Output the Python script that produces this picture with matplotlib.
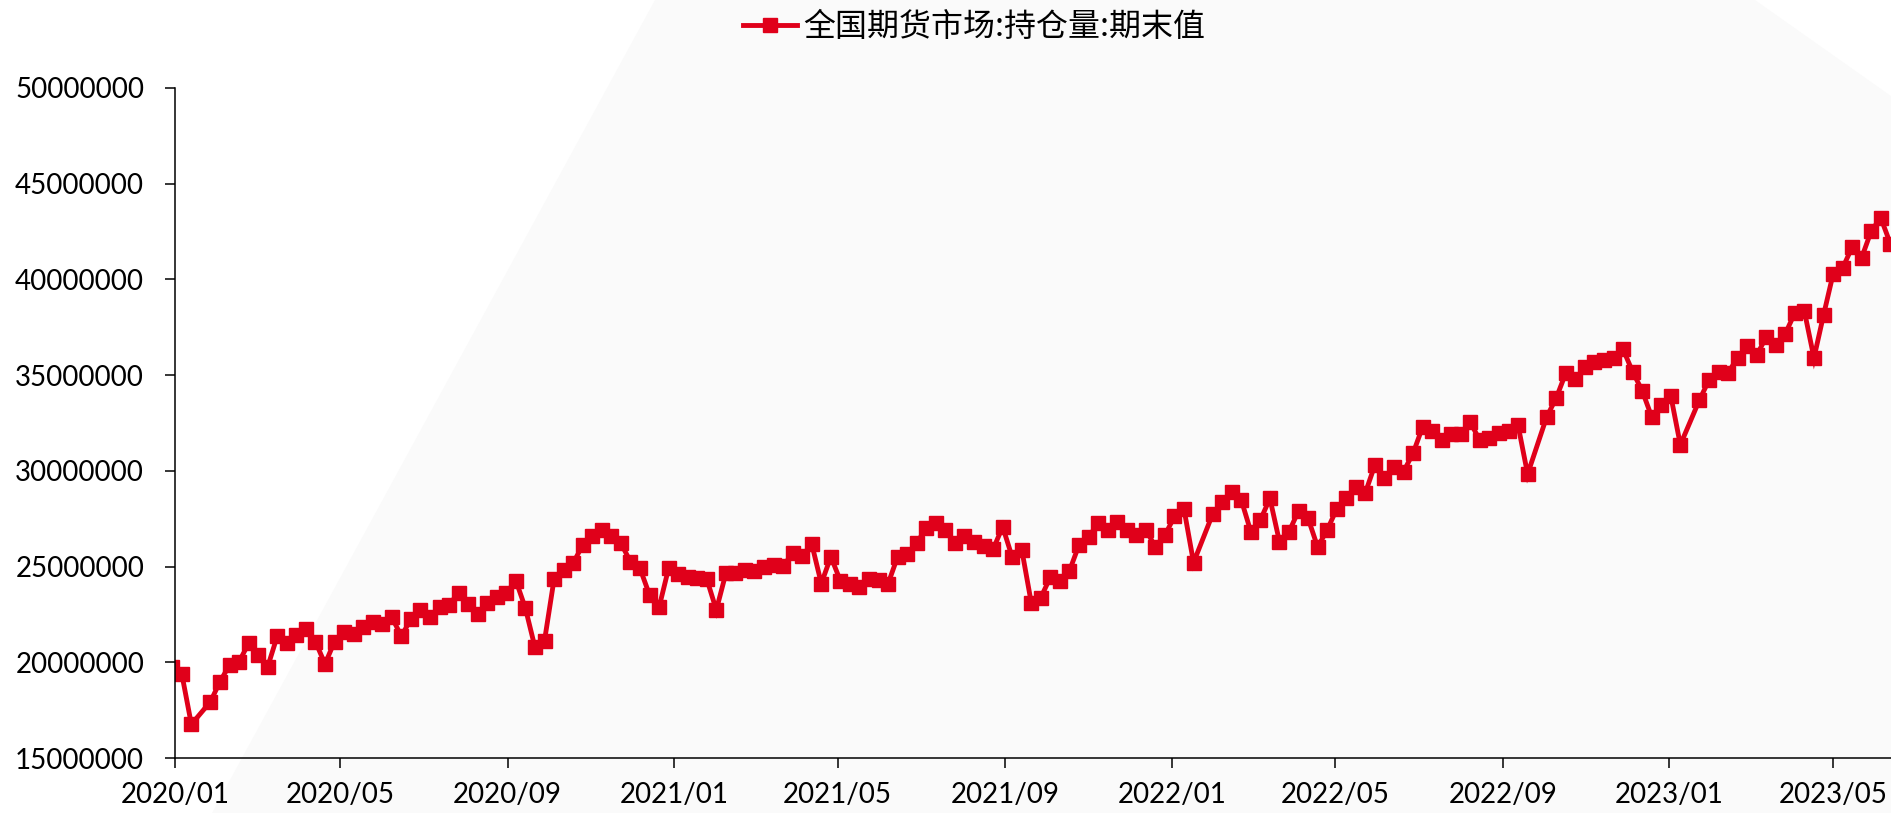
import matplotlib
matplotlib.use("Agg")
import matplotlib.pyplot as plt
import matplotlib.dates as mdates
from matplotlib.patches import Polygon
from matplotlib.lines import Line2D
from matplotlib.ticker import FixedLocator, FuncFormatter
import pandas as pd
import numpy as np

# Weekly observations (week start dates); weeks with market holidays have no value
week_start = "2019-12-30"
week_end = "2023-06-12"
closed_weeks = ["2020-01-20", "2022-01-24", "2022-09-26", "2023-01-16"]

# 全国期货市场:持仓量:期末值 (contracts)
open_interest = [
    19770000, 19390000, 16760000, 17940000, 18990000, 19860000, 20030000, 20990000,
    20380000, 19770000, 21370000, 21020000, 21430000, 21720000, 21080000, 19910000,
    21080000, 21600000, 21480000, 21860000, 22120000, 22000000, 22350000, 21370000,
    22250000, 22730000, 22350000, 22900000, 22990000, 23640000, 23020000, 22500000,
    23120000, 23410000, 23620000, 24270000, 22820000, 20780000, 21130000, 24340000,
    24800000, 25180000, 26130000, 26610000, 26930000, 26620000, 26220000, 25260000,
    24910000, 23520000, 22870000, 24910000, 24610000, 24470000, 24390000, 24350000,
    22730000, 24650000, 24680000, 24840000, 24780000, 24980000, 25080000, 25020000,
    25700000, 25550000, 26180000, 24110000, 25520000, 24250000, 24080000, 23920000,
    24360000, 24320000, 24110000, 25520000, 25660000, 26250000, 27000000, 27260000,
    26930000, 26250000, 26600000, 26280000, 26080000, 25910000, 27080000, 25490000,
    25890000, 23100000, 23380000, 24450000, 24250000, 24780000, 26130000, 26520000,
    27280000, 26930000, 27350000, 26930000, 26650000, 26910000, 26040000, 26640000,
    27620000, 28000000, 25210000, 27740000, 28380000, 28880000, 28480000, 26820000,
    27430000, 28560000, 26300000, 26820000, 27910000, 27520000, 26020000, 26910000,
    28010000, 28560000, 29140000, 28860000, 30310000, 29610000, 30220000, 29960000,
    30920000, 32300000, 32100000, 31590000, 31940000, 31940000, 32530000, 31590000,
    31700000, 31990000, 32100000, 32380000, 29830000, 32820000, 33810000, 35110000,
    34810000, 35400000, 35690000, 35800000, 35910000, 36350000, 35180000, 34190000,
    32820000, 33420000, 33920000, 31360000, 33700000, 34740000, 35180000, 35120000,
    35910000, 36540000, 36030000, 37000000, 36570000, 37170000, 38250000, 38330000,
    35900000, 38130000, 40270000, 40590000, 41690000, 41140000, 42530000, 43220000,
    41870000,
]

series_label = "全国期货市场:持仓量:期末值"
y_ticks = [15000000, 20000000, 25000000, 30000000, 35000000, 40000000, 45000000, 50000000]
x_ticks = ["2020-01-01", "2020-05-01", "2020-09-01", "2021-01-01", "2021-05-01",
           "2021-09-01", "2022-01-01", "2022-05-01", "2022-09-01", "2023-01-01",
           "2023-05-01"]

weeks = pd.date_range(week_start, week_end, freq="7D")
dates = weeks[~weeks.isin(pd.to_datetime(closed_weeks))]
dates = dates[:len(open_interest)]

RED = "#e0001a"
W, H = 1891, 813

fig = plt.figure(figsize=(W / 100, H / 100), dpi=100)
fig.patch.set_facecolor("white")

# pale backdrop band
band_px = [(655, 0), (1755, 0), (1891, 96), (1891, 813), (212, 813)]
band = Polygon([(x / W, 1 - y / H) for x, y in band_px], closed=True,
               transform=fig.transFigure, facecolor="#fafafa", edgecolor="none",
               zorder=-10)
fig.add_artist(band)

ax = fig.add_axes([175 / W, 1 - 758 / H, (W - 175) / W, (758 - 88) / H])
ax.set_facecolor("none")

ax.plot(dates, open_interest, color=RED, lw=3.5, marker="s", ms=9.6,
        mfc=RED, mec=RED, solid_joinstyle="miter")

ax.set_ylim(15000000, 50000000)
ax.set_xlim(pd.Timestamp("2020-01-01"), pd.Timestamp("2023-06-12 12:00"))

ax.yaxis.set_major_locator(FixedLocator(y_ticks))
ax.yaxis.set_major_formatter(FuncFormatter(lambda v, p: f"{v:.0f}"))
ax.xaxis.set_major_locator(FixedLocator(mdates.date2num(pd.to_datetime(x_ticks))))
ax.xaxis.set_major_formatter(mdates.DateFormatter("%Y/%m"))

for side in ("top", "right"):
    ax.spines[side].set_visible(False)
for side in ("left", "bottom"):
    ax.spines[side].set_linewidth(1.1)
    ax.spines[side].set_color("black")

ax.tick_params(axis="both", direction="out", length=7.2, width=1.1, color="black",
               labelsize=20, labelcolor="black")
ax.tick_params(axis="y", pad=15)
ax.tick_params(axis="x", pad=10)
for lab in ax.get_xticklabels() + ax.get_yticklabels():
    lab.set_fontfamily("Lato")

handle = Line2D([], [], color=RED, lw=3.5, marker="s", ms=9.6, mfc=RED, mec=RED)
fig.legend([handle], [series_label], loc="center", bbox_to_anchor=(0.515, 0.967),
           frameon=False, handlelength=1.7, handletextpad=0.19,
           prop={"family": ["Noto Sans CJK SC", "DejaVu Sans"], "size": 23})

fig.savefig("out.png", dpi=100, facecolor="white")
